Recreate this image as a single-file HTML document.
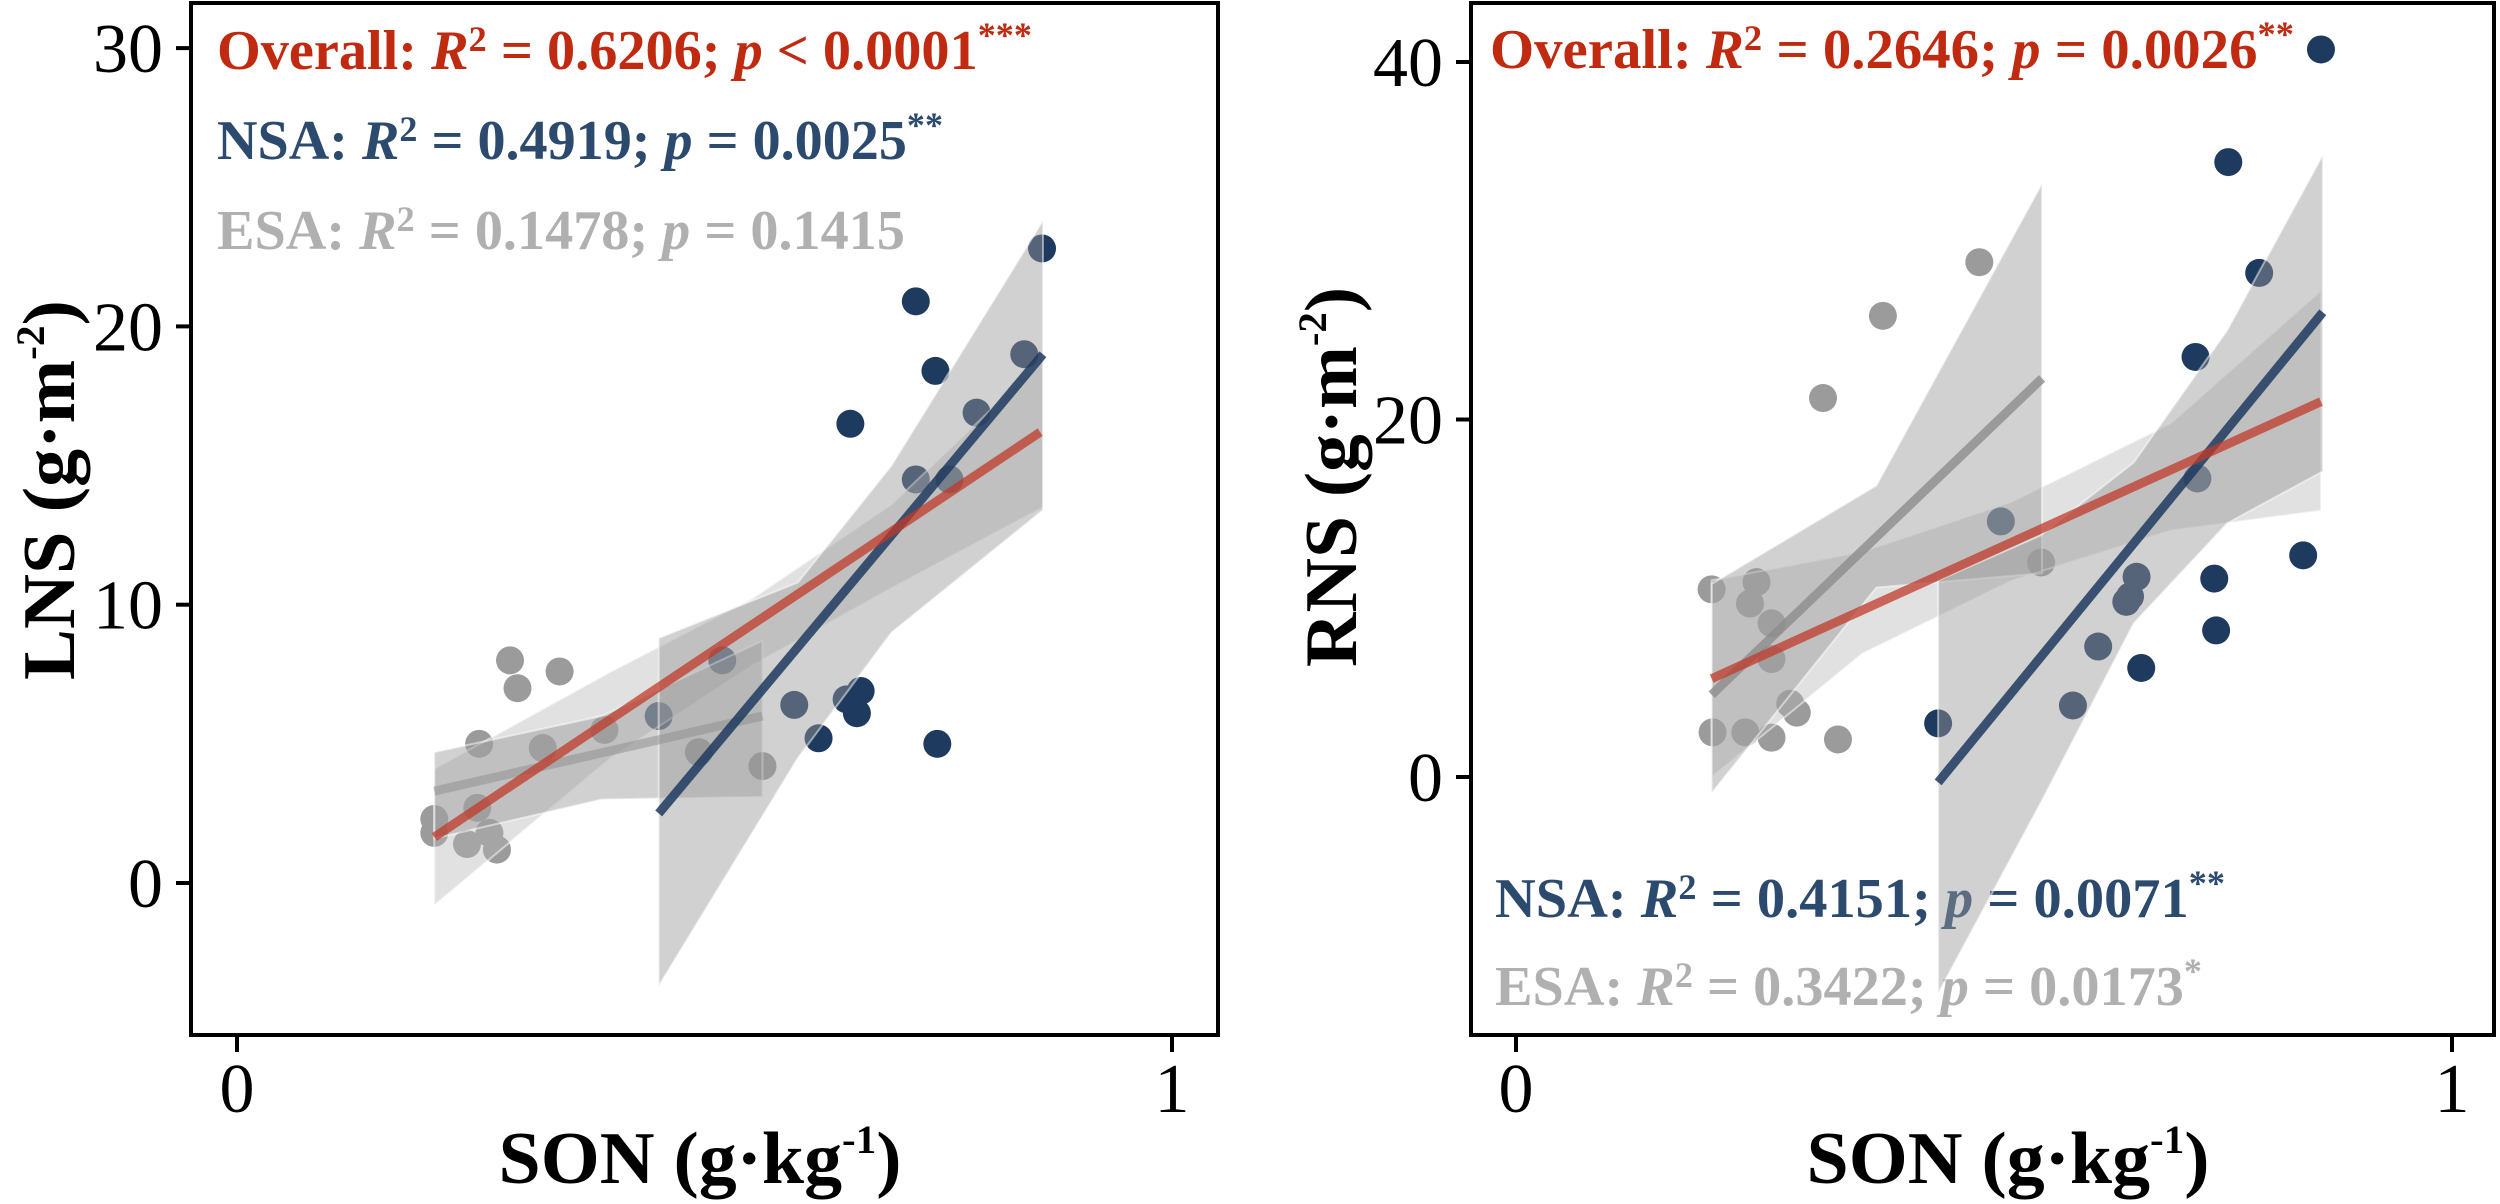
<!DOCTYPE html>
<html><head><meta charset="utf-8"><style>
html,body{margin:0;padding:0;background:#fff}
svg{display:block}
text{font-family:"Liberation Serif",serif}
</style></head><body>
<svg id="chart" xmlns="http://www.w3.org/2000/svg" width="2500" height="1204" viewBox="0 0 2500 1204">
<g id="pL"></g>
<g id="pR"></g>
</svg>
<script>
// ---- Left panel data (LNS vs SON) ----
const lnsNsaX = [.861,.726,.842,.747,.791,.656,.726,.762,.596,.667,.652,.663,.622,.749,.519,.451];
const lnsNsaY = [22.8,20.9,19.0,18.4,16.9,16.5,14.5,14.5,6.4,6.9,6.6,6.1,5.2,5.0,8.0,6.0];
const lnsEsaX = [.292,.300,.345,.259,.327,.393,.494,.562,.211,.211,.246,.270,.278,.257];
const lnsEsaY = [8.0,7.0,7.6,5.0,4.85,5.5,4.7,4.2,2.3,1.8,1.4,1.8,1.2,2.7];
const lnsAllFitX = [.211,.859];
const lnsAllFitY = [1.65,16.2];
const lnsNsaFitX = [.451,.862];
const lnsNsaFitY = [2.5,19.0];
const lnsEsaFitX = [.211,.562];
const lnsEsaFitY = [3.3,6.0];
const lnsAllBandX = [.211,.4,.55,.7,.862];
const lnsAllBandLo = [-0.8,4.5,7.8,10.6,13.5];
const lnsAllBandHi = [4.1,7.6,10.2,13.6,18.8];
const lnsNsaBandX = [.451,.6,.7,.862];
const lnsNsaBandLo = [-3.7,4.5,9.0,13.4];
const lnsNsaBandHi = [8.8,10.8,15.0,23.8];
const lnsEsaBandX = [.211,.39,.562];
const lnsEsaBandLo = [1.6,3.0,3.1];
const lnsEsaBandHi = [4.7,6.0,8.7];
const lnsYTicks = [0,10,20,30];
const lnsXTicks = [0,1];
// ---- Right panel data (RNS vs SON) ----
const rnsNsaX = [.860,.761,.794,.726,.728,.518,.841,.746,.663,.656,.652,.748,.622,.668,.595,.451];
const rnsNsaY = [40.7,34.4,28.2,23.5,16.7,14.3,12.4,11.1,11.2,10.1,9.8,8.2,7.3,6.1,4.0,3.0];
const rnsEsaX = [.495,.392,.328,.209,.257,.250,.273,.273,.293,.300,.210,.245,.273,.344,.561];
const rnsEsaY = [28.8,25.8,21.2,10.5,10.9,9.7,8.6,6.6,4.1,3.6,2.5,2.5,2.2,2.1,12.0];
const rnsAllFitX = [.209,.860];
const rnsAllFitY = [5.5,21.0];
const rnsNsaFitX = [.451,.862];
const rnsNsaFitY = [-0.3,26.0];
const rnsEsaFitX = [.209,.562];
const rnsEsaFitY = [4.6,22.3];
const rnsAllBandX = [.209,.37,.53,.7,.86];
const rnsAllBandLo = [0.0,6.9,11.0,13.8,14.9];
const rnsAllBandHi = [11.0,12.6,15.4,19.8,27.2];
const rnsNsaBandX = [.451,.56,.66,.76,.862];
const rnsNsaBandLo = [-12.1,-1.5,8.6,14.2,17.1];
const rnsNsaBandHi = [11.0,13.5,17.6,25.0,34.8];
const rnsEsaBandX = [.209,.385,.562];
const rnsEsaBandLo = [-0.9,10.6,11.4];
const rnsEsaBandHi = [10.8,16.3,33.2];
const rnsYTicks = [0,20,40];
const rnsXTicks = [0,1];

const NS='http://www.w3.org/2000/svg';
function mk(parent,tag,attrs){const e=document.createElementNS(NS,tag);for(const k in attrs)e.setAttribute(k,attrs[k]);parent.appendChild(e);return e;}

function panel(g,cfg){
  const sx=v=>cfg.x0+v*(cfg.x1-cfg.x0);
  const sy=v=>cfg.y0px-v*cfg.pxPerUnit;
  const fr=mk(g,'rect',{x:cfg.fl,y:3,width:cfg.fr-cfg.fl,height:1035-3,fill:'none',stroke:'#000','stroke-width':4});
  
  
  cfg.yTicks.forEach(t=>{
    const l=mk(g,'line',{x1:cfg.fl-15,x2:cfg.fl,y1:sy(t),y2:sy(t),stroke:'#000','stroke-width':4});
    
    
    const tx=mk(g,'text',{x:cfg.fl-28,y:sy(t)+24,'text-anchor':'end','font-size':70,fill:'#000'});
    tx.textContent=t;
    
    
  });
  cfg.xTicks.forEach(t=>{
    const l=mk(g,'line',{x1:sx(t),x2:sx(t),y1:1035,y2:1052,stroke:'#000','stroke-width':4});
    
    
    const tx=mk(g,'text',{x:sx(t),y:1112,'text-anchor':'middle','font-size':70,fill:'#000'});
    tx.textContent=t;
    
    
  });
  const xt=mk(g,'text',{x:cfg.xtc,y:1183,'text-anchor':'middle','font-size':74,'font-weight':'bold',fill:'#000',textLength:403,lengthAdjust:'spacingAndGlyphs'});
  xt.innerHTML='SON (g·kg<tspan font-size="40" dy="-30">-1</tspan><tspan dy="30">)</tspan>';
  
  
  const yt=mk(g,'text',{x:0,y:0,'text-anchor':'middle','font-size':74,'font-weight':'bold',fill:'#000',textLength:380,lengthAdjust:'spacingAndGlyphs',transform:`translate(${cfg.ytx},${cfg.ytc}) rotate(-90)`});
  yt.innerHTML=cfg.yTitle+' (g·m<tspan font-size="40" dy="-30">-2</tspan><tspan dy="30">)</tspan>';
  
  
  cfg.ann.forEach(a=>{
    const t=mk(g,'text',{x:a.x,y:a.y,'font-size':56,'font-weight':'bold',fill:a.c,textLength:a.w,lengthAdjust:'spacingAndGlyphs'});
    t.innerHTML=`${a.n}: <tspan font-style="italic">R</tspan><tspan font-size="36" dy="-18">2</tspan><tspan dy="18"> = ${a.r}; </tspan><tspan font-style="italic">p</tspan> ${a.op} ${a.p}<tspan font-size="36" dy="-22">${a.s}</tspan>`;
    
    
  });
  cfg.esaX.forEach((x,i)=>{
    const c=mk(g,'circle',{cx:sx(x),cy:sy(cfg.esaY[i]),r:14,fill:'#9b9b9b'});
    
    
  });
  cfg.nsaX.forEach((x,i)=>{
    const c=mk(g,'circle',{cx:sx(x),cy:sy(cfg.nsaY[i]),r:14,fill:'#1f3a5f'});
    
    
  });
  function band(X,Lo,Hi,fill,op,name){
    let pts=X.map((x,i)=>sx(x)+','+sy(Hi[i]));
    for(let i=X.length-1;i>=0;i--)pts.push(sx(X[i])+','+sy(Lo[i]));
    const p=mk(g,'polygon',{points:pts.join(' '),fill:fill,'fill-opacity':op,stroke:'#fff','stroke-opacity':0.5,'stroke-width':2});
    
    
  }
  band(cfg.allBX,cfg.allBL,cfg.allBH,'#b4b4b4',0.4,'overall-ci-band');
  band(cfg.esaBX,cfg.esaBL,cfg.esaBH,'#9a9a9a',0.45,'esa-ci-band');
  band(cfg.nsaBX,cfg.nsaBL,cfg.nsaBH,'#9a9a9a',0.45,'nsa-ci-band');
  function fit(X,Y,col,op,name){
    const l=mk(g,'line',{x1:sx(X[0]),y1:sy(Y[0]),x2:sx(X[1]),y2:sy(Y[1]),stroke:col,'stroke-opacity':op,'stroke-width':9});
    
    
  }
  fit(cfg.esaFX,cfg.esaFY,'#8c8c8c',cfg.esaOp,'esa-fit-line');
  fit(cfg.nsaFX,cfg.nsaFY,'#1f3a5f',0.85,'nsa-fit-line');
  fit(cfg.allFX,cfg.allFY,'#c0392b',0.75,'overall-fit-line');
}
const RED='#bf2a10',NAVY='#2b4a6e',GRAY='#b0b0b0';
panel(document.getElementById('pL'),{x0:237,x1:1172,y0px:883,pxPerUnit:27.83,fl:191,fr:1218,esaOp:0.5,
  yTicks:lnsYTicks,xTicks:lnsXTicks,xtc:700,ytx:74,ytc:490,yTitle:'LNS',
  nsaX:lnsNsaX,nsaY:lnsNsaY,esaX:lnsEsaX,esaY:lnsEsaY,
  allFX:lnsAllFitX,allFY:lnsAllFitY,nsaFX:lnsNsaFitX,nsaFY:lnsNsaFitY,esaFX:lnsEsaFitX,esaFY:lnsEsaFitY,
  allBX:lnsAllBandX,allBL:lnsAllBandLo,allBH:lnsAllBandHi,nsaBX:lnsNsaBandX,nsaBL:lnsNsaBandLo,nsaBH:lnsNsaBandHi,esaBX:lnsEsaBandX,esaBL:lnsEsaBandLo,esaBH:lnsEsaBandHi,
  ann:[{n:'Overall',r:'0.6206',op:'<',p:'0.0001',s:'***',x:217,y:69,w:815,c:RED,name:'overall-stats-label'},
       {n:'NSA',r:'0.4919',op:'=',p:'0.0025',s:'**',x:217,y:159,w:726,c:NAVY,name:'nsa-stats-label'},
       {n:'ESA',r:'0.1478',op:'=',p:'0.1415',s:'',x:217,y:249,w:688,c:GRAY,name:'esa-stats-label'}]});
panel(document.getElementById('pR'),{x0:1516,x1:2452,y0px:777,pxPerUnit:17.875,fl:1471,fr:2494,esaOp:0.8,
  yTicks:rnsYTicks,xTicks:rnsXTicks,xtc:2008,ytx:1356,ytc:477,yTitle:'RNS',
  nsaX:rnsNsaX,nsaY:rnsNsaY,esaX:rnsEsaX,esaY:rnsEsaY,
  allFX:rnsAllFitX,allFY:rnsAllFitY,nsaFX:rnsNsaFitX,nsaFY:rnsNsaFitY,esaFX:rnsEsaFitX,esaFY:rnsEsaFitY,
  allBX:rnsAllBandX,allBL:rnsAllBandLo,allBH:rnsAllBandHi,nsaBX:rnsNsaBandX,nsaBL:rnsNsaBandLo,nsaBH:rnsNsaBandHi,esaBX:rnsEsaBandX,esaBL:rnsEsaBandLo,esaBH:rnsEsaBandHi,
  ann:[{n:'Overall',r:'0.2646',op:'=',p:'0.0026',s:'**',x:1490,y:68,w:804,c:RED,name:'overall-stats-label'},
       {n:'NSA',r:'0.4151',op:'=',p:'0.0071',s:'**',x:1495,y:917,w:730,c:NAVY,name:'nsa-stats-label'},
       {n:'ESA',r:'0.3422',op:'=',p:'0.0173',s:'*',x:1495,y:1005,w:707,c:GRAY,name:'esa-stats-label'}]});
</script>
</body></html>
